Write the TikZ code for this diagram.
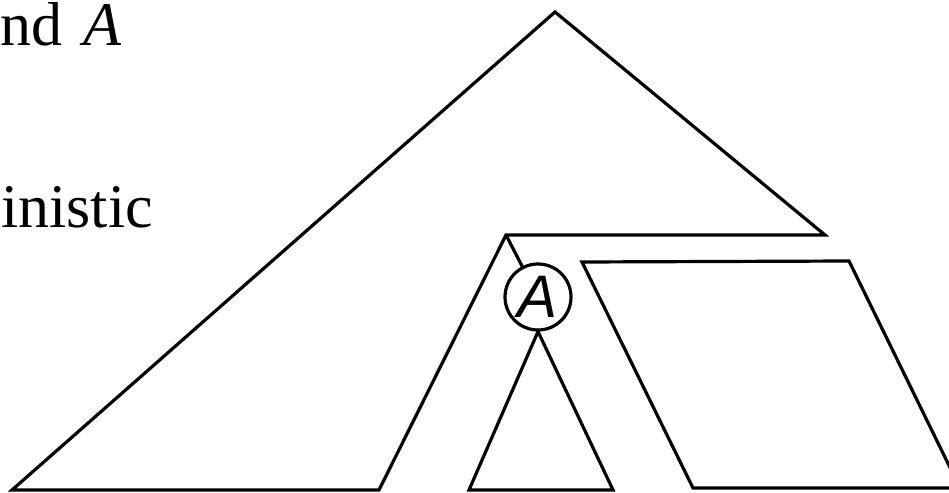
\documentclass[tikz,border=0pt]{standalone}
\usepackage{fontspec}
\setmainfont{Liberation Serif}
\newfontfamily\arialfont{Liberation Sans}
\begin{document}
\begin{tikzpicture}[x=1pt,y=-1pt,
  shape line/.style={line width=3.2pt, line join=miter},
  bigtext/.style={anchor=base west, inner sep=0pt, font=\fontsize{62}{74}\selectfont},
  nodecircle/.style={circle, draw, line width=3.2pt, minimum size=66pt, inner sep=0pt,
     font=\arialfont\itshape\fontsize{60}{72}\selectfont}]
\useasboundingbox (0,0) rectangle (949,492);
\clip (0,0) rectangle (949,492);
% text
\node[bigtext] (t1) at (0,46) {nd\hspace{0.35em}\textit{A}};
\node[bigtext] (t2) at (1,227) {inistic};
% coordinates
\coordinate (apex) at (555,12);
\coordinate (bl) at (12,490);
\coordinate (br) at (379,490);
\coordinate (corner) at (506,235);
\coordinate (rc) at (825,235);
% big tree
\draw[shape line] (apex) -- (bl) -- (br) -- (corner) -- (rc) -- cycle;
% node A
\node[nodecircle] (A) at (538,297) {\raisebox{-0.1ex}{A}};
\draw[shape line] (corner) -- (A);
% subtree below A
\coordinate (sl) at (469,490);
\coordinate (sr) at (613,490);
\draw[shape line] (A.south) -- (sl) -- (sr) -- cycle;
% parallelogram
\coordinate (p1) at (582,262);
\coordinate (p2) at (849,261);
\coordinate (p3) at (960,488);
\coordinate (p4) at (693,488);
\draw[shape line] (p1) -- (p2) -- (p3) -- (p4) -- cycle;
\end{tikzpicture}
\end{document}
